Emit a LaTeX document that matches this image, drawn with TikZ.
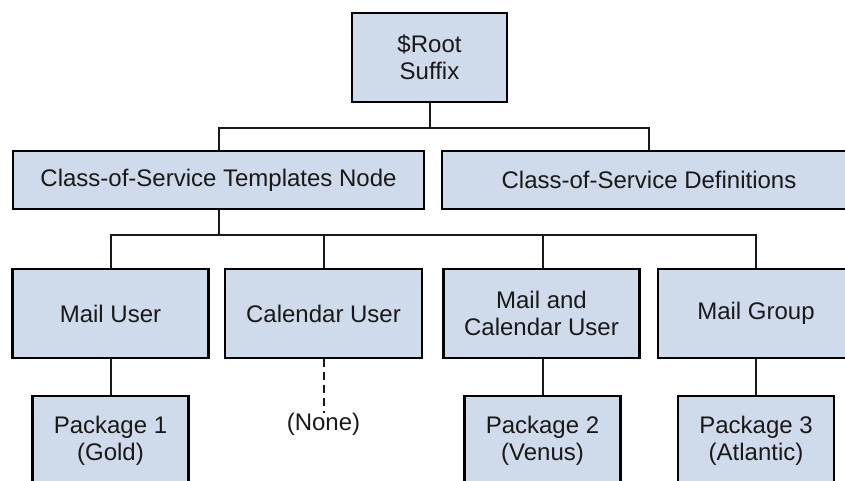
\documentclass[tikz,border=0pt]{standalone}
\usepackage{fontspec}
\setmainfont{Liberation Sans}
\definecolor{boxfill}{RGB}{207,218,235}
\definecolor{ink}{RGB}{25,25,25}
\tikzset{
  label font/.style={font=\fontsize{24}{27}\selectfont},
  box/.style={draw=black, line width=2.2pt, fill=boxfill, inner sep=0pt,
    align=center, text=ink, label font},
  tallbox/.style={box, minimum height=89pt},
  widebox/.style={box, minimum height=58pt},
  link/.style={line width=2pt, draw=black!90},
}
\begin{document}
\begin{tikzpicture}[x=1pt,y=-1pt]
\useasboundingbox (0,0) rectangle (845,481);
\clip (0,0) rectangle (845,481);

% top level
\node[tallbox, minimum width=155pt] (root) at (429.5,57.5) {\$Root\\Suffix};

% second level
\node[widebox, minimum width=411pt] (tmpl) at (218.5,180) {Class-of-Service Templates Node};
\node[widebox, minimum width=414pt] (defs) at (649,180) {Class-of-Service Definitions};

% third level
\node[tallbox, minimum width=196pt] (mail) at (110.5,313.5) {Mail User};
\node[tallbox, minimum width=197pt] (cal)  at (323.5,313.5) {Calendar User};
\node[tallbox, minimum width=196pt] (mcal) at (541.5,313.5) {Mail and\\Calendar User};
\node[tallbox, minimum width=196pt] (mgrp) at (756,313.5) {Mail Group};

% packages
\node[tallbox, minimum width=156pt] (pkg1) at (110.5,440.5) {Package 1\\(Gold)};
\node[tallbox, minimum width=156pt] (pkg2) at (542.5,440.5) {Package 2\\(Venus)};
\node[tallbox, minimum width=156pt] (pkg3) at (756,440.5) {Package 3\\(Atlantic)};
\node[inner sep=0pt, anchor=north, text=ink, label font]
  (none) at (323.5,413) {(None)};

% connectors
\draw[link] (root.south) -- ++(0,25) coordinate (j1);
\draw[link] (tmpl.north) |- (j1) -| (defs.north);
\draw[link] (tmpl.south) -- ++(0,25) coordinate (j2);
\draw[link] (mail.north) |- (j2) -| (mgrp.north);
\draw[link] (cal.north) -- (j2 -| cal.north);
\draw[link] (mcal.north -| pkg2.north) -- (j2 -| pkg2.north);
\draw[link] (mail.south -| pkg1.north) -- (pkg1.north);
\draw[link] (mcal.south -| pkg2.north) -- (pkg2.north);
\draw[link] (mgrp.south) -- (pkg3.north);
\draw[link, dash pattern=on 8pt off 5pt] (cal.south) -- (none.north);
\end{tikzpicture}
\end{document}
